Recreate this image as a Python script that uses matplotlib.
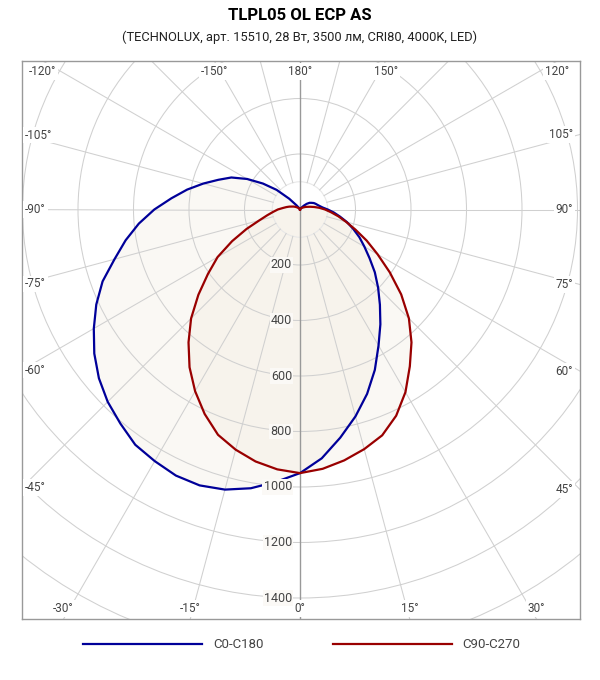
import matplotlib.pyplot as plt
import numpy as np
from matplotlib.patches import Circle

# Углы гамма (от надира), шаг 5 градусов
gamma = np.arange(0, 181, 5)

i_c0 = [950, 900, 835, 772, 707, 638, 566, 505, 448, 398, 352, 306, 268, 236, 204, 175,
        146, 122, 100, 82, 72, 65, 60, 55, 48, 42, 32, 20, 10, 5, 3, 2, 1, 1, 0, 0, 0]
i_c180 = [950, 985, 1020, 1045, 1058, 1058, 1047, 1035, 1007, 980, 946, 905, 858, 810, 757, 692,
          638, 583, 525, 465, 413, 361, 313, 273, 220, 163, 110, 55, 20, 8, 4, 2, 1, 1, 0, 0, 0]
i_c90 = [950, 938, 918, 894, 866, 820, 760, 690, 625, 555, 476, 395, 323, 265, 213, 172,
         140, 112, 90, 70, 52, 38, 28, 22, 16, 12, 9, 7, 5, 4, 3, 2, 1, 1, 0, 0, 0]
i_c270 = [950, 940, 922, 896, 864, 813, 756, 694, 625, 555, 478, 405, 343, 270, 205, 152,
          120, 97, 80, 62, 50, 40, 31, 25, 19, 14, 10, 7, 5, 4, 3, 2, 1, 1, 0, 0, 0]

ring_values = [200, 400, 600, 800, 1000, 1200, 1400]
grid_rings = [200, 400, 600, 800, 1000, 1200, 1400, 1600, 1800]
angle_labels = [-150, -120, -105, -90, -75, -60, -45, -30, -15, 0,
                15, 30, 45, 60, 75, 90, 105, 120, 150, 180]

title = "TLPL05 OL ECP AS"
subtitle = "(TECHNOLUX, арт. 15510, 28 Вт, 3500 лм, CRI80, 4000K, LED)"

plt.rcParams['font.family'] = ['Roboto', 'DejaVu Sans']

# масштаб: пикселей на 1 кд
s = 0.2775
x0, x1 = (22 - 300) / s, (580 - 300) / s
y0, y1 = -(619 - 209.5) / s, (209.5 - 61) / s


def plane_xy(i_right, i_left):
    g = np.concatenate([-gamma[::-1], gamma[1:]])
    r = np.concatenate([np.array(i_left)[::-1], np.array(i_right)[1:]])
    t = np.radians(g)
    return r * np.sin(t), -r * np.cos(t)


fig = plt.figure(figsize=(6, 6.8), dpi=100)
ax = fig.add_axes([22 / 600, 61 / 680, 558 / 600, 558 / 680])
ax.set_xlim(x0, x1)
ax.set_ylim(y0, y1)
ax.set_xticks([])
ax.set_yticks([])
for sp in ax.spines.values():
    sp.set_color('#999999')
    sp.set_linewidth(1)

# заливка
xb, yb = plane_xy(i_c0, i_c180)
xr, yr = plane_xy(i_c90, i_c270)
ax.fill(xb, yb, color='#efe6d6', alpha=0.25, lw=0, zorder=1)
ax.fill(xr, yr, color='#efe6d6', alpha=0.25, lw=0, zorder=1)

# сетка
ax.add_patch(Circle((0, 0), 100, fill=False, ec='#e8e8e8', lw=0.8, zorder=2))
for r in grid_rings:
    ax.add_patch(Circle((0, 0), r, fill=False, ec='#d0d0d0', lw=0.75, zorder=2))
for a in range(0, 360, 15):
    if a in (0, 180):
        continue
    t = np.radians(a)
    ax.plot([100 * np.sin(t), 3000 * np.sin(t)], [-100 * np.cos(t), -3000 * np.cos(t)],
            color='#d0d0d0', lw=0.75, zorder=2)
ax.axvline(0, color='#999999', lw=1, zorder=3)

# кривые
ax.plot(xb, yb, color='#000099', lw=1.6, zorder=4, label='C0-C180')
ax.plot(xr, yr, color='#990000', lw=1.6, zorder=4, label='C90-C270')

# подписи углов
px = 1 / s
for a in angle_labels:
    t = np.radians(a)
    dx, dy = np.sin(t), -np.cos(t)
    tx = np.inf if abs(dx) < 1e-9 else (x1 / dx if dx > 0 else x0 / dx)
    ty = np.inf if abs(dy) < 1e-9 else (y1 / dy if dy > 0 else y0 / dy)
    if tx < ty:
        y = tx * dy
        if dx > 0:
            x, ha = x1 - 7 * px, 'right'
        else:
            x, ha = x0 + 3 * px, 'left'
        va = 'center'
    else:
        x = ty * dx
        ha = 'center'
        if dy > 0:
            y, va = y1 - 4 * px, 'top'
        else:
            y, va = y0 + 4 * px, 'bottom'
    ax.text(x, y, f"{a}°", ha=ha, va=va, fontsize=8.5, color='#444444', zorder=5,
            bbox=dict(boxstyle='square,pad=0.15', fc='white', ec='none'))

# подписи значений
for r in ring_values:
    ax.text(-8 * px, -r, str(r), ha='right', va='center', fontsize=9, color='#444444', zorder=5,
            bbox=dict(boxstyle='square,pad=0.1', fc='#fbf9f6', ec='none'))

fig.text(0.5, 1 - 15 / 680, title, ha='center', va='center', fontsize=12, fontweight='bold')
fig.text(0.5, 1 - 37 / 680, subtitle, ha='center', va='center', fontsize=9.3, color='#222222')

ax.legend(loc='center', bbox_to_anchor=(0.5 + 2 / 600, 35 / 680), bbox_transform=fig.transFigure,
          ncol=2, frameon=False, handlelength=9, handletextpad=0.8, columnspacing=5.3,
          fontsize=9.5, labelcolor='#444444')

fig.savefig('out.png', dpi=100)
